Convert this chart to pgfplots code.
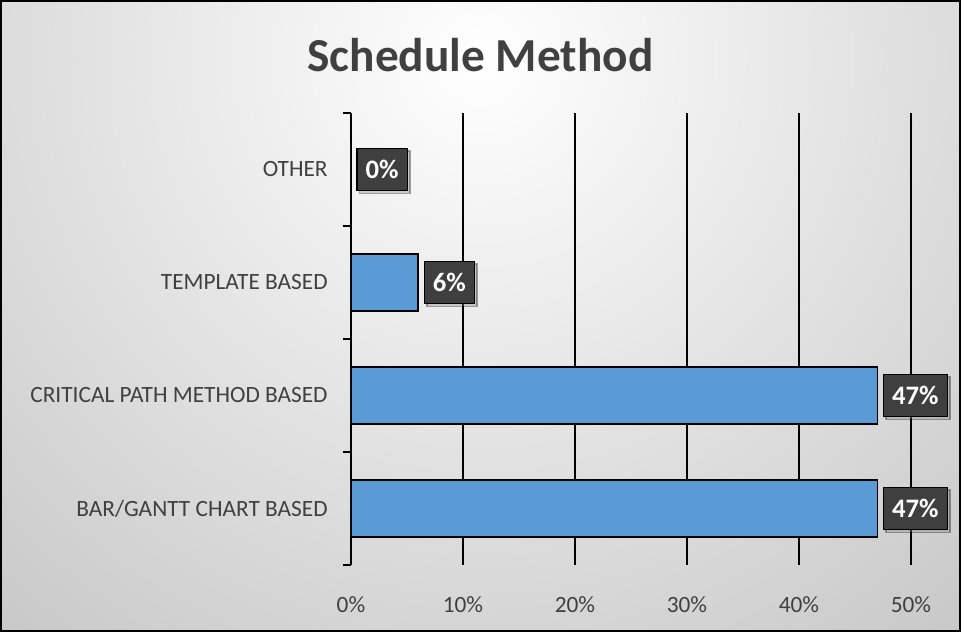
\documentclass[border=0pt]{standalone}
\usepackage{fontspec}
\setmainfont{Carlito}
\usepackage{pgfplots}
\pgfplotsset{compat=1.18}
\pgfkeys{/pgf/number format/assume math mode=true}
\usetikzlibrary{shadows}
\definecolor{barblue}{HTML}{5B9BD5}
\definecolor{txt}{HTML}{404040}
\definecolor{lbl}{HTML}{3F3F3F}
\begin{document}
\begin{tikzpicture}
\begin{scope}
\clip (0,0) rectangle (720.75pt,474pt);
\shade[inner color=white, outer color=black!25] (360pt,430pt) circle (650pt);
\end{scope}
\draw[black, line width=1.5pt] (0.75pt,0.75pt) rectangle (720pt,473.25pt);
\node[font=\bfseries\fontsize{35.5}{40}\selectfont, text=txt] at (360.4pt,432.75pt) {Schedule Method};
\begin{axis}[
  at={(263.25pt,50.25pt)}, anchor=south west,
  scale only axis, width=420pt, height=339pt,
  xmin=0, xmax=50, ymin=-0.5, ymax=3.5,
  xbar, bar width=0.5,
  xtick={0,10,...,50},
  xticklabel={\pgfmathprintnumber{\tick}\%},
  xmajorgrids, grid style={black, line width=0.9pt},
  ytick={0,1,2,3},
  yticklabels={BAR/GANTT CHART BASED, CRITICAL PATH METHOD BASED, TEMPLATE BASED, OTHER},
  minor ytick={-0.5,0.5,1.5,2.5,3.5},
  major tick length=0pt, minor tick length=6pt, tick align=outside,
  tick style={black, line width=0.9pt},
  axis lines*=left,
  x axis line style={draw=none},
  y axis line style={black, line width=0.9pt},
  ticklabel style={font=\fontsize{17.5}{21}\selectfont, text=txt},
  xticklabel style={yshift=-20pt},
  yticklabel style={xshift=-14pt},
  point meta=x,
  nodes near coords={\pgfmathprintnumber{\pgfplotspointmeta}\%},
  nodes near coords style={anchor=west, xshift=4pt, fill=lbl, draw=black, line width=1pt, text=white,
    font=\bfseries\fontsize{20}{24}\selectfont, inner xsep=6.5pt, inner ysep=9pt,
    drop shadow={shadow xshift=2pt, shadow yshift=-2pt, opacity=0.35}},
]
\addplot[fill=barblue, draw=black, line width=1.2pt] coordinates {(47,0) (47,1) (6,2) (0,3)};
\end{axis}
\end{tikzpicture}
\end{document}
